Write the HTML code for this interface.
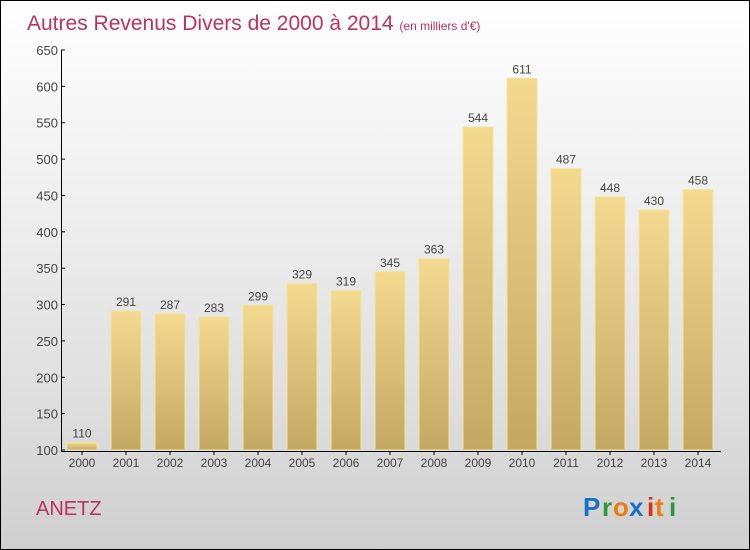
<!DOCTYPE html>
<html><head><meta charset="utf-8"><style>
body{margin:0}
#c{position:relative;width:748px;height:548px;border:1px solid #000;background:linear-gradient(#fff,#f4f4f4 25%,#e0e0e0 70%,#cfcfcf);overflow:hidden;font-family:"Liberation Sans",sans-serif}
</style></head><body>
<div id="c">
<svg width="748" height="548">
<defs><linearGradient id="bg" x1="0" y1="0" x2="0" y2="1"><stop offset="0" stop-color="#f3da8f"/><stop offset="1" stop-color="#c3a862"/></linearGradient></defs>
<text x="26" y="29" font-size="21" fill="#c0305e">Autres Revenus Divers de 2000 à 2014 <tspan font-size="12">(en milliers d'€)</tspan></text>
<g id="ax"></g><g id="bars"></g>
<text x="35" y="514" font-size="20" fill="#c0305e">ANETZ</text>
<g font-size="26" font-weight="bold" font-family="'Liberation Sans',sans-serif">
<text x="582" y="515" fill="#1a6fcc">P</text><text x="601" y="515" fill="#2a9a3a">r</text><text x="612" y="515" fill="#f07a10">o</text><text x="628" y="515" fill="#1a6fcc">x</text><text x="646" y="515" fill="#e03010">i</text><text x="654" y="515" fill="#f07a10">t</text><text x="668" y="515" fill="#2a9a3a">i</text></g>
</svg></div>
<script>
const years=["2000","2001","2002","2003","2004","2005","2006","2007","2008","2009","2010","2011","2012","2013","2014"];
const values=[110,291,287,283,299,329,319,345,363,544,611,487,448,430,458];
const ticks=[100,150,200,250,300,350,400,450,500,550,600,650];
const NS="http://www.w3.org/2000/svg";
function y(v){return 449-(v-100)*400/550;}
function x(i){return 81+i*44;}
function mk(t,a,p){const e=document.createElementNS(NS,t);for(const k in a)e.setAttribute(k,a[k]);p.appendChild(e);return e;}
const ax=document.getElementById('ax'),bars=document.getElementById('bars');
ticks.forEach(t=>{mk('line',{x1:60,x2:64,y1:y(t),y2:y(t),stroke:'#000'},ax);
const l=mk('text',{x:57,y:y(t)+5,'text-anchor':'end','font-size':13,fill:'#444'},ax);l.textContent=t;

});
mk('line',{x1:60.5,x2:60.5,y1:y(650),y2:450,stroke:'#000'},ax);
mk('line',{x1:60,x2:720,y1:450.5,y2:450.5,stroke:'#000'},ax);
years.forEach((yr,i)=>{
const r=mk('rect',{x:x(i)-15,y:y(values[i]),width:30,height:449-y(values[i]),fill:'url(#bg)',stroke:'#f5e3a0','stroke-width':1},bars);


const v=mk('text',{x:x(i),y:y(values[i])-5,'text-anchor':'middle','font-size':12,fill:'#444'},bars);v.textContent=values[i];


mk('line',{x1:x(i),x2:x(i),y1:450,y2:454,stroke:'#000'},ax);
const t=mk('text',{x:x(i),y:466,'text-anchor':'middle','font-size':12,fill:'#444'},ax);t.textContent=yr;

});
</script></body></html>
